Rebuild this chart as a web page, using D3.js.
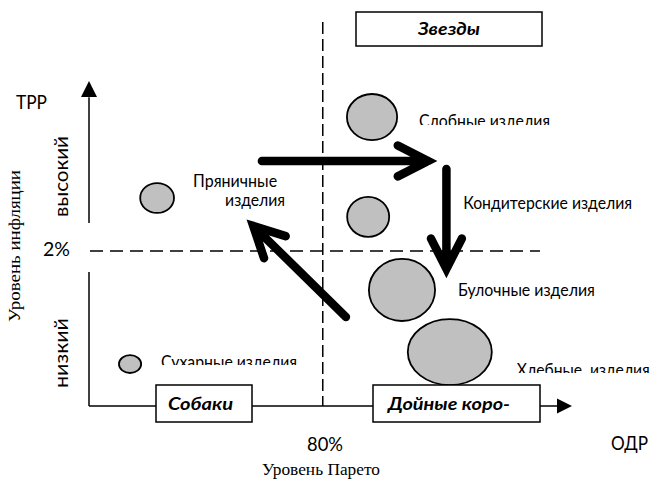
<!DOCTYPE html>
<html>
<head>
<meta charset="utf-8">
<script src="https://cdn.jsdelivr.net/npm/d3@7"></script>
<style>
    body { margin: 0; background: #fff; }
    svg { display: block; }
    .sans { font-family: Lato, "Open Sans", sans-serif; fill: #000; }
    .serif { font-family: "Liberation Serif", "DejaVu Serif", serif; fill: #000; }
</style>
</head>
<body>
<div id="chart"></div>
<script>
// matrix values: both axes run 0..100
var products = ["Пряничные изделия", "Слобные изделия", "Кондитерские изделия", "Булочные изделия", "Хлебные  изделия", "Сухарные изделия"];
var paretoShare = [14.1, 58.6, 57.8, 64.8, 74.7, 8.5];
var inflation = [64.0, 88.9, 58.2, 35.7, 16.6, 12.9];
var bubbleW = [7.0, 10.4, 8.7, 13.7, 17.4, 4.6];
var bubbleH = [9.2, 14.2, 12.3, 19.1, 20.3, 5.5];

var paretoCut = 48.4, paretoCutLabel = "80%";
var inflationCut = 47.7, inflationCutLabel = "2%";

var quadrants = ["Звезды", "Собаки", "Дойные коро-"];

// movement arrows between quadrants
var moveFromX = [35.8, 74.0, 53.2];
var moveFromY = [75.4, 72.9, 27.4];
var moveToX = [70.2, 74.0, 34.0];
var moveToY = [75.4, 42.2, 55.4];

var W = 653, H = 481;

var svg = d3.select("#chart").append("svg")
    .attr("width", W)
    .attr("height", H);

var x = d3.scaleLinear().domain([0, 100]).range([89, 572]),
    y = d3.scaleLinear().domain([0, 100]).range([406, 81]);

var defs = svg.append("defs");

// text stretched to the width it has in the picture
function label(parent, cls, size, txt, len) {
    var t = parent.append("text")
        .attr("class", cls)
        .style("font-size", size + "px")
        .attr("xml:space", "preserve")
        .style("white-space", "pre")
        .text(txt);
    if (len) t.attr("textLength", len).attr("lengthAdjust", "spacingAndGlyphs");
    return t;
}

// axes with arrow tips
svg.append("line")
    .attr("x1", x(0)).attr("y1", y(0))
    .attr("x2", x(97)).attr("y2", y(0))
    .attr("stroke", "#000").attr("stroke-width", 1.5);
svg.append("line")
    .attr("x1", x(0)).attr("y1", y(0))
    .attr("x2", x(0)).attr("y2", y(95))
    .attr("stroke", "#000").attr("stroke-width", 1.5);
svg.append("path")
    .attr("d", "M" + x(100) + "," + y(0) + "l-15,-7.5v15z");
svg.append("path")
    .attr("d", "M" + x(0) + "," + y(100) + "l-8,16h16z");

// white label frame hiding the axis around "2%"
svg.append("rect")
    .attr("x", 40).attr("y", y(inflationCut) - 28)
    .attr("width", 52).attr("height", 49)
    .attr("fill", "#fff");

// thresholds
svg.append("line")
    .attr("x1", x(paretoCut)).attr("y1", 22)
    .attr("x2", x(paretoCut)).attr("y2", y(0))
    .attr("stroke", "#000").attr("stroke-width", 1.5)
    .attr("stroke-dasharray", "12,5");
svg.append("line")
    .attr("x1", x(0) + 1).attr("y1", y(inflationCut))
    .attr("x2", 540).attr("y2", y(inflationCut))
    .attr("stroke", "#000").attr("stroke-width", 1.5)
    .attr("stroke-dasharray", "13,7");

// bubbles
var bubbles = products.map(function (name, i) {
    return {name: name, px: paretoShare[i], inf: inflation[i], w: bubbleW[i], h: bubbleH[i]};
});

svg.selectAll("ellipse.bubble")
    .data(bubbles)
    .enter().append("ellipse")
    .attr("class", "bubble")
    .attr("cx", function (d) { return x(d.px); })
    .attr("cy", function (d) { return y(d.inf); })
    .attr("rx", function (d) { return (x(d.w) - x(0)) / 2; })
    .attr("ry", function (d) { return (y(0) - y(d.h)) / 2; })
    .attr("fill", "#c0c0c0")
    .attr("stroke", "#000")
    .attr("stroke-width", 1.8);

// labels: offset from bubble centre, width, and where the text frame cuts them (px from baseline)
var labelDx = [36, 47, 95, 56, 67, 31],
    labelDy = [-11, 10, -8, 6, 24, 4],
    labelLen = [84, 131, 169, 137, 133, 136],
    labelCut = [null, -2, null, null, -3, -3];

bubbles.forEach(function (d, i) {
    var lx = x(d.px) + labelDx[i],
        ly = y(d.inf) + labelDy[i];
    var g = svg.append("g");
    if (labelCut[i] !== null) {
        var id = "cut" + i;
        defs.append("clipPath").attr("id", id)
            .append("rect")
            .attr("x", lx - 5).attr("y", ly - 30)
            .attr("width", 200).attr("height", 30 + labelCut[i]);
        g.attr("clip-path", "url(#" + id + ")");
    }
    if (i === 0) {
        var parts = d.name.split(" ");
        label(g, "sans", 16.5, parts[0], labelLen[i]).attr("x", lx).attr("y", ly);
        label(g, "sans", 16.5, parts[1], 60).attr("x", lx + 32).attr("y", ly + 19);
    } else {
        label(g, "sans", 16.5, d.name, labelLen[i]).attr("x", lx).attr("y", ly);
    }
});

// quadrant frames
var boxes = [
    {x: 356, y: 12, w: 186, h: 34, tx: 418, len: 62},
    {x: 156, y: 385, w: 96, h: 37, tx: 168, len: 65},
    {x: 373, y: 385, w: 167, h: 37, tx: 388, len: 122}
];
boxes.forEach(function (b, i) {
    svg.append("rect")
        .attr("x", b.x).attr("y", b.y)
        .attr("width", b.w).attr("height", b.h)
        .attr("fill", "#fff").attr("stroke", "#000").attr("stroke-width", 1.5);
    label(svg, "sans", 17.5, quadrants[i], b.len)
        .attr("x", b.tx).attr("y", b.y + b.h / 2 + 6)
        .style("font-weight", "bold")
        .style("font-style", "italic");
});

// arrows
var head = 34, spread = 27 * Math.PI / 180;
moveFromX.forEach(function (fx, i) {
    var x0 = x(fx), y0 = y(moveFromY[i]),
        x1 = x(moveToX[i]), y1 = y(moveToY[i]),
        a = Math.atan2(y1 - y0, x1 - x0);
    var d = "M" + x0 + "," + y0 + "L" + x1 + "," + y1 +
        "M" + (x1 - head * Math.cos(a - spread)) + "," + (y1 - head * Math.sin(a - spread)) +
        "L" + x1 + "," + y1 +
        "L" + (x1 - head * Math.cos(a + spread)) + "," + (y1 - head * Math.sin(a + spread));
    svg.append("path")
        .attr("d", d)
        .attr("fill", "none")
        .attr("stroke", "#000")
        .attr("stroke-width", 8.5)
        .attr("stroke-linecap", "round")
        .attr("stroke-linejoin", "miter");
});

// axis titles
label(svg, "sans", 19.5, "ТРР", 31).attr("x", 16).attr("y", 109);
label(svg, "sans", 18.5, inflationCutLabel, 27).attr("x", 43).attr("y", y(inflationCut) + 5);
label(svg, "sans", 20, "высокий", 81)
    .attr("transform", "translate(68,217) rotate(-90)");
label(svg, "sans", 20, "низкий", 70)
    .attr("transform", "translate(68,388) rotate(-90)");
label(svg, "serif", 17.5, "Уровень инфляции", 152)
    .attr("transform", "translate(20,322) rotate(-90)");
label(svg, "sans", 19, paretoCutLabel, 36).attr("x", 307).attr("y", 451);
label(svg, "serif", 17, "Уровень Парето", 118).attr("x", 262).attr("y", 475);
label(svg, "sans", 19, "ОДР", 37).attr("x", 611).attr("y", 450);
</script>
</body>
</html>
